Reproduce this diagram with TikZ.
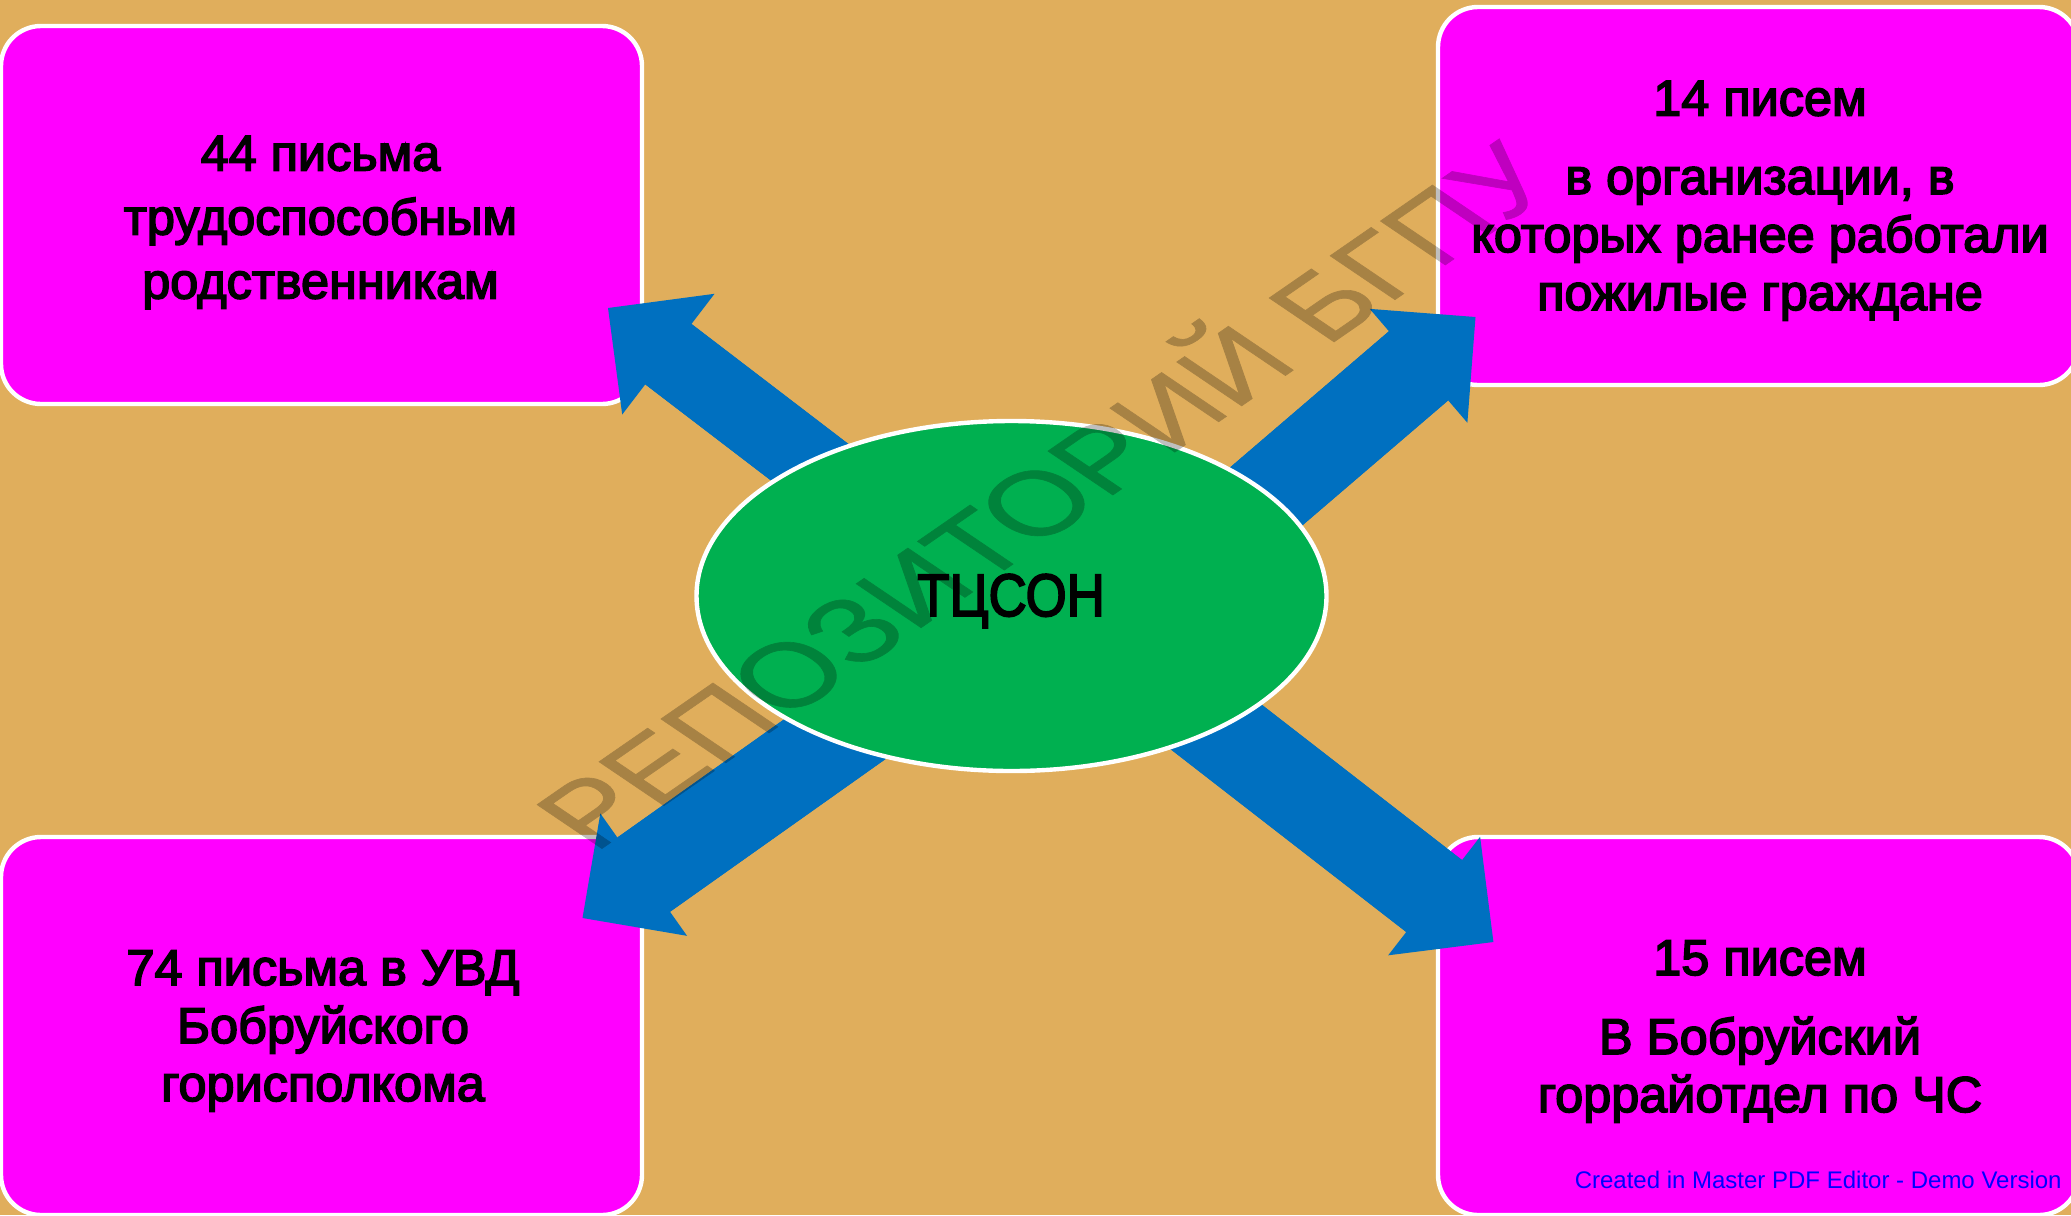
\documentclass[tikz,border=0pt]{standalone}
\usepackage{fontspec}
\setmainfont{Liberation Sans}
\newfontfamily\heavyfont[FakeBold=3.2]{Liberation Sans}
\newfontfamily\markfont[FakeBold=0.7]{Liberation Sans}
\usetikzlibrary{shapes.geometric,arrows.meta,calc}
\definecolor{bgsand}{HTML}{E0AE5C}
\definecolor{boxpink}{HTML}{FF00FF}
\definecolor{ellgreen}{HTML}{00B050}
\definecolor{arrowblue}{HTML}{0070C0}
\tikzset{
  pinkbox/.style={draw=white,line width=2.2pt,fill=boxpink,rounded corners=20pt,rectangle,minimum width=320.5pt,minimum height=189pt,inner sep=0pt},
  lbl/.style={align=center,inner sep=0pt,anchor=base,font=\heavyfont\fontsize{25.2}{32}\selectfont},
  lbltight/.style={lbl,font=\heavyfont\fontsize{25.2}{29}\selectfont},
  thinarrow/.style={draw=arrowblue,line width=38pt,-{Triangle[length=38pt,width=76pt,line width=0pt,fill=arrowblue]}},
  widearrow/.style={draw=arrowblue,line width=45.5pt,-{Triangle[length=37.5pt,width=75pt,line width=0pt,fill=arrowblue]}},
  thinshaft/.style={draw=arrowblue,line width=38pt},
  wideshaft/.style={draw=arrowblue,line width=45.5pt},
}
\begin{document}
\begin{tikzpicture}[x=0.5pt,y=-0.5pt]
\useasboundingbox (0,0) rectangle (2071,1215);
\clip (0,0) rectangle (2071,1215);
\fill[bgsand] (0,0) rectangle (2071,1215);
% boxes
\node[pinkbox] (tl) at (321.5,215) {};
\node[pinkbox] (tr) at (1758.5,196) {};
\node[pinkbox] (bl) at (321.5,1026) {};
\node[pinkbox] (br) at (1758.5,1026) {};
% arrow ends
\coordinate (tlfrom) at (829,477);
\coordinate (tlto) at (608,308);
\coordinate (trfrom) at (1248,512);
\coordinate (trto) at (1475.5,317);
\coordinate (blfrom) at (876,710);
\coordinate (blto) at (582.5,918);
\coordinate (brfrom) at (1193,709);
\coordinate (brto) at (1493.4,942);
\draw[thinarrow] (tlfrom) -- (tlto);
\draw[thinshaft] (tlfrom) -- ($(tlfrom)!0.78!(tlto)$);
\draw[widearrow] (trfrom) -- (trto);
\draw[wideshaft] (trfrom) -- ($(trfrom)!0.8!(trto)$);
\draw[widearrow] (blfrom) -- (blto);
\draw[wideshaft] (blfrom) -- ($(blfrom)!0.83!(blto)$);
\draw[widearrow] (brfrom) -- (brto);
\draw[wideshaft] (brfrom) -- ($(brfrom)!0.84!(brto)$);
% centre
\node[ellipse,draw=white,line width=2.2pt,fill=ellgreen,minimum width=315pt,minimum height=175pt,inner sep=0pt] (ell) at (1011.5,596) {};
\node[inner sep=0pt,anchor=base,font=\heavyfont\fontsize{30}{32}\selectfont,xscale=0.88,transform shape] (elltext) at (1011,616) {ТЦСОН};
% labels
\node[lbl] (tltext) at (320.5,298.5) {44 письма\\трудоспособным\\родственникам};
\node[lbltight] (trtext) at (1760,310) {14 писем\\[10.25pt]в организации, в\\которых ранее работали\\пожилые граждане};
\node[lbltight] (bltext) at (323,1101) {74 письма в УВД\\Бобруйского\\горисполкома};
\node[lbltight] (brtext) at (1760,1112) {15 писем\\[10.5pt]В Бобруйский\\горрайотдел по ЧС};
% watermark
\begin{scope}[transparency group,opacity=0.25]
\begin{scope}[cm={.815,.564,-.826,.559,(594,854)}]
\node[transform shape,anchor=base west,inner sep=0pt,text=black,font=\markfont\fontsize{57}{60}\selectfont] (wm) at (0,0) {РЕПОЗИТОРИЙ БГПУ};
\end{scope}
\end{scope}
\node[inner sep=0pt,anchor=base east,text=blue,font=\fontsize{12}{13}\selectfont] (demo) at (2062,1188.6) {Created in Master PDF Editor - Demo Version};
\end{tikzpicture}
\end{document}
